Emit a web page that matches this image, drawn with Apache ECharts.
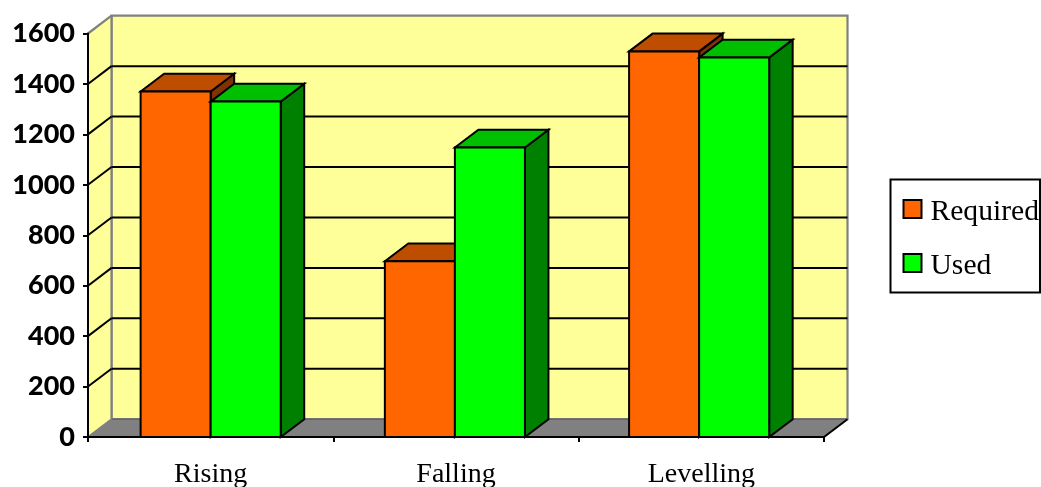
<!DOCTYPE html>
<html><head><meta charset="utf-8">
<style>html,body{margin:0;padding:0;background:#fff}#c{width:1041px;height:487px}</style>
<script src="https://cdn.jsdelivr.net/npm/echarts@6/dist/echarts.min.js"></script>
</head><body><div id="c"></div>
<script>
const categories = ['Rising', 'Falling', 'Levelling'];
const required = [1370, 697, 1529];
const used = [1330, 1148, 1505];
const yTicks = [0, 200, 400, 600, 800, 1000, 1200, 1400, 1600];

const DX = 23.5, DY = -17.8;
const BAR_RATIO = 0.2855;
const BLK = '#000', GREY = '#808080';

function poly(points, fill, stroke, lw) {
  return { type: 'polygon', shape: { points }, style: { fill, stroke: stroke || BLK, lineWidth: lw === undefined ? 2 : lw, lineJoin: 'miter' } };
}
function line(p, q, stroke, lw) {
  return { type: 'line', shape: { x1: p[0], y1: p[1], x2: q[0], y2: q[1] }, style: { stroke, lineWidth: lw || 2 } };
}
function barRenderer(side, front, top, dark) {
  return function (params, api) {
    const c = api.coord([api.value(0), api.value(1)]);
    const base = api.coord([api.value(0), 0]);
    const bw = api.size([1, 0])[0] * BAR_RATIO;
    const nudge = -1.1 * api.value(0);
    const x0 = c[0] + nudge + (side < 0 ? -bw : 0), x1 = x0 + bw, yt = c[1], yb = base[1];
    return { type: 'group', children: [
      poly([[x1, yt], [x1 + DX, yt + DY], [x1 + DX, yb + DY], [x1, yb]], dark),
      poly([[x0, yt], [x0 + DX, yt + DY], [x1 + DX, yt + DY], [x1, yt]], top),
      poly([[x0, yt], [x1, yt], [x1, yb], [x0, yb]], front)
    ] };
  };
}
function frameRenderer(params, api) {
  const a = api.coord([0, 0]), b = api.coord([0, 1600]);
  const bw = api.size([1, 0])[0];
  const xL = a[0] - bw / 2, xR = xL + bw * 3, y0 = a[1], yT = b[1];
  return { type: 'group', children: [
    poly([[xL + DX, y0 + DY], [xR + DX, y0 + DY], [xR + DX, yT + DY], [xL + DX, yT + DY]], '#FFFF99', GREY, 2.2),
    poly([[xL, y0], [xL + DX, y0 + DY], [xL + DX, yT + DY], [xL, yT]], '#FFFF99', 'none', 0),
    poly([[xL, y0], [xL + DX, y0 + DY], [xR + DX, y0 + DY], [xR, y0]], GREY, 'none', 0),
    line([xL + DX, y0 + DY], [xR + DX, y0 + DY], '#666', 1.5),
    line([xL + DX, yT + DY], [xL + DX, y0 + DY], GREY, 2.2),
    line([xL, y0], [xL + DX, y0 + DY], GREY, 1.8),
    line([xL, yT], [xL + DX, yT + DY], GREY, 2.2),
    line([xR, y0], [xR + DX, y0 + DY], BLK, 2)
  ] };
}
function gridRenderer(params, api) {
  const v = api.value(1);
  if (v === 0 || v === 1600) return { type: 'group', children: [] };
  const bw = api.size([1, 0])[0];
  const a = api.coord([0, v]);
  const xL = a[0] - bw / 2, xR = xL + bw * 3, y = a[1];
  return { type: 'group', children: [
    line([xL, y], [xL + DX, y + DY], BLK, 2),
    line([xL + DX, y + DY], [xR + DX, y + DY], BLK, 2)
  ] };
}

const chart = echarts.init(document.getElementById('c'), null, { renderer: 'canvas' });
chart.setOption({
  animation: false,
  backgroundColor: '#fff',
  grid: { left: 88, right: 217, top: 33.5, height: 403.5, containLabel: false, outerBoundsMode: 'none' },
  legend: {
    data: ['Required', 'Used'], orient: 'vertical', left: 890.5, top: 179.5,
    padding: [17.5, 1, 11.5, 12], itemWidth: 18, itemHeight: 18, icon: 'rect',
    borderColor: BLK, borderWidth: 2, backgroundColor: '#fff',
    itemStyle: { borderColor: BLK, borderWidth: 2 },
    formatter: name => '{t|' + name + '}',
    textStyle: { rich: { t: { fontFamily: 'Liberation Serif', fontSize: 29.6, color: BLK, padding: [6, 0, 0, 4] } } },
    itemGap: 24, selectedMode: false
  },
  xAxis: {
    type: 'category', data: categories, boundaryGap: true, z: 10,
    axisLine: { show: true, lineStyle: { color: BLK, width: 2 } },
    axisTick: { show: true, length: 5, lineStyle: { color: BLK, width: 2 } },
    axisLabel: { margin: 24, fontFamily: 'Liberation Serif', fontSize: 28, color: BLK }
  },
  yAxis: {
    type: 'value', min: 0, max: 1600, interval: 200, z: 10,
    axisLine: { show: true, lineStyle: { color: BLK, width: 2 } },
    axisTick: { show: true, length: 5, lineStyle: { color: BLK, width: 2 } },
    splitLine: { show: false },
    axisLabel: { margin: 13, formatter: v => String(v), fontFamily: 'Lato', fontWeight: 900, fontSize: 27, color: BLK }
  },
  series: [
    { type: 'custom', name: 'frame', renderItem: frameRenderer, data: [[1, 0]], encode: { x: 0, y: 1 }, z: 1, silent: true },
    { type: 'custom', name: 'grid', renderItem: gridRenderer, data: yTicks.map(v => [1, v]), encode: { x: 0, y: 1 }, z: 2, silent: true },
    { type: 'custom', name: 'Required', renderItem: barRenderer(-1, '#FF6600', '#BF4D00', '#803300'),
      itemStyle: { color: '#FF6600' }, data: required.map((v, i) => [i, v]), encode: { x: 0, y: 1 }, z: 3 },
    { type: 'custom', name: 'Used', renderItem: barRenderer(1, '#00FF00', '#00BF00', '#008000'),
      itemStyle: { color: '#00FF00' }, data: used.map((v, i) => [i, v]), encode: { x: 0, y: 1 }, z: 4 }
  ]
});
</script></body></html>
